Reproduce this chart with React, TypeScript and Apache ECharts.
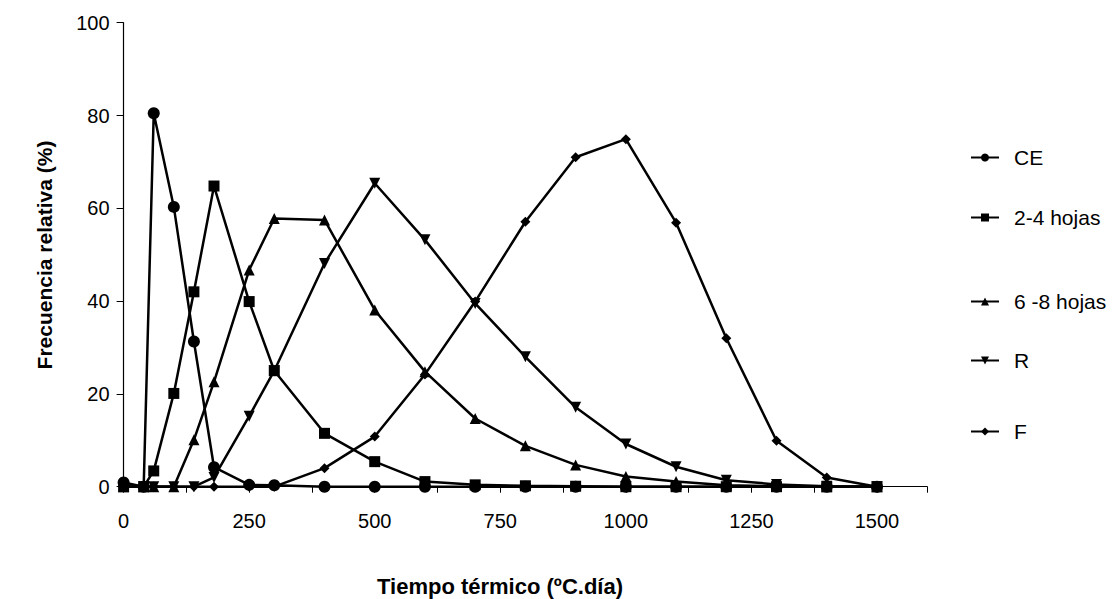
import React, { useEffect, useRef } from "react";
import * as echarts from "echarts";

const xValues = [0, 40, 60, 100, 140, 180, 250, 300, 400, 500, 600, 700, 800, 900, 1000, 1100, 1200, 1300, 1400, 1500];
const ceValues = [0.9, 0, 80.5, 60.3, 31.3, 4.2, 0.4, 0.3, 0, 0, 0, 0, 0, 0, 0, 0, 0, 0, 0, 0];
const hojas24Values = [0, 0, 3.4, 20.1, 42.0, 64.8, 39.9, 25.0, 11.5, 5.4, 1.1, 0.4, 0.2, 0.1, 0, 0, 0, 0, 0, 0];
const hojas68Values = [0, 0, 0, 0, 10.1, 22.6, 46.7, 57.8, 57.5, 38.1, 24.8, 14.7, 8.8, 4.7, 2.2, 1.1, 0.3, 0.1, 0, 0];
const rValues = [0, 0, 0, 0, 0, 2.0, 15.2, 25.0, 48.1, 65.4, 53.2, 39.5, 28.0, 17.1, 9.2, 4.3, 1.4, 0.5, 0.1, 0];
const fValues = [0, 0, 0, 0, 0, 0, 0, 0, 4.0, 10.8, 24.2, 39.9, 57.1, 71.0, 74.9, 56.9, 32.0, 9.9, 2.0, 0];
const seriesNames = ["CE", "2-4 hojas", "6 -8 hojas", "R", "F"];
const xTickLabels = [0, 250, 500, 750, 1000, 1250, 1500];
const yTickValues = [0, 20, 40, 60, 80, 100];

const FONT = "'Liberation Sans', Arial, sans-serif";

export default function App() {
  const ref = useRef<HTMLDivElement>(null);
  useEffect(() => {
    if (!ref.current) return;
    const chart = echarts.init(ref.current, undefined, { renderer: "svg" });
    const pair = (vals: number[]) => xValues.map((x, i) => [x, vals[i]]);
    const seriesData = [ceValues, hojas24Values, hojas68Values, rValues, fValues];
    const symbols = ["circle", "rect", "triangle", "triangle", "diamond"];
    const sizes = [12, 11, 11, 11, 10];
    const rotates = [0, 0, 0, 180, 0];
    const legendTops = [153, 213, 297, 356, 427];
    const series = seriesNames.map((name, i) => ({
      name,
      type: "line",
      data: pair(seriesData[i]),
      symbol: symbols[i],
      symbolSize: sizes[i],
      symbolRotate: rotates[i],
      showAllSymbol: true,
      lineStyle: { color: "#000", width: 2.5 },
      itemStyle: { color: "#000" },
      z: 2 + i,
    }));
    const legends = seriesNames.map((name, i) => ({
      data: [name],
      orient: "vertical",
      left: 965,
      top: legendTops[i] - 11,
      itemWidth: 28,
      itemHeight: 10,
      textStyle: { fontFamily: FONT, fontSize: 21, color: "#000", padding: [0, 0, 0, 10] },
      selectedMode: false,
    }));
    chart.setOption({
      animation: false,
      backgroundColor: "#fff",
      textStyle: { fontFamily: FONT },
      grid: { left: 123.6, top: 22.7, width: 803.6, height: 464, containLabel: false },
      legend: legends,
      xAxis: {
        type: "value",
        min: 0,
        max: 1600,
        interval: 125,
        axisLine: { lineStyle: { color: "#000", width: 1.2 } },
        axisTick: { show: true, length: 6, lineStyle: { color: "#000" } },
        splitLine: { show: false },
        axisLabel: {
          color: "#000",
          fontSize: 20,
          fontFamily: FONT,
          margin: 24,
          formatter: (v: number) => (xTickLabels.includes(v) ? String(v) : ""),
        },
      },
      yAxis: {
        type: "value",
        min: 0,
        max: 100,
        interval: 20,
        axisLine: { show: true, lineStyle: { color: "#000", width: 1.2 } },
        axisTick: { show: true, length: 7, lineStyle: { color: "#000" } },
        splitLine: { show: false },
        axisLabel: {
          color: "#000",
          fontSize: 20,
          fontFamily: FONT,
          margin: 14,
          formatter: (v: number) => (yTickValues.includes(v) ? String(v) : ""),
        },
      },
      graphic: [
        {
          type: "text",
          x: 500,
          y: 586,
          style: {
            text: "Tiempo térmico (ºC.día)",
            fontFamily: FONT,
            fontSize: 22,
            fontWeight: "bold",
            fill: "#000",
            align: "center",
            verticalAlign: "middle",
          },
        },
        {
          type: "text",
          x: 44,
          y: 255,
          rotation: Math.PI / 2,
          style: {
            text: "Frecuencia relativa (%)",
            fontFamily: FONT,
            fontSize: 21,
            fontWeight: "bold",
            fill: "#000",
            align: "center",
            verticalAlign: "middle",
          },
        },
      ],
      series,
    });
    return () => chart.dispose();
  }, []);
  return (
    <div
      ref={ref}
      style={{ position: "fixed", left: 0, top: 0, width: 1120, height: 599, background: "#fff" }}
    />
  );
}
